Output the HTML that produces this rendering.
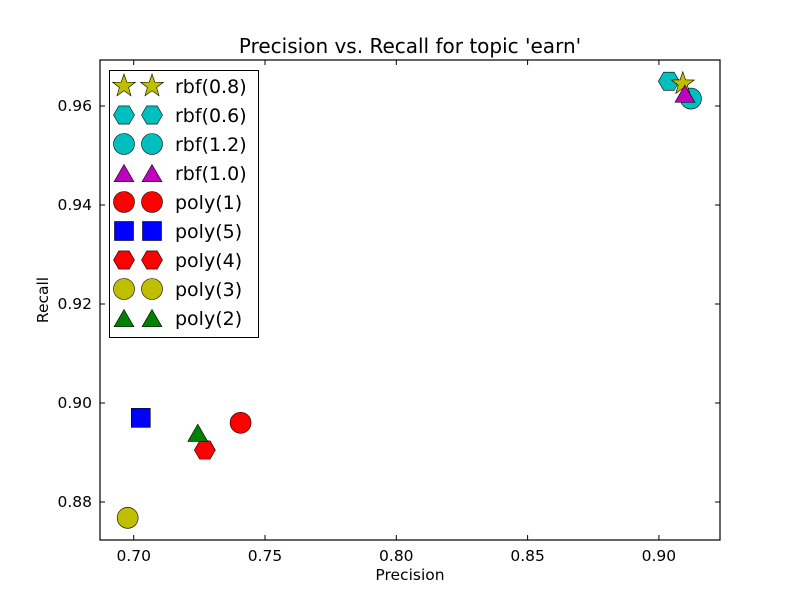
<!DOCTYPE html>
<html><head><meta charset="utf-8">
<style>
body{margin:0;background:#fff;}
svg{display:block;font-family:"DejaVu Sans","Liberation Sans",sans-serif;}
</style></head>
<body>
<svg id="chart" width="800" height="600" xmlns="http://www.w3.org/2000/svg">
<rect width="800" height="600" fill="#fff"/>
<text x="410" y="53" font-size="20" text-anchor="middle">Precision vs. Recall for topic 'earn'</text>
<g id="plot"></g>
<text x="410" y="580" font-size="15.5" text-anchor="middle">Precision</text>
<text x="48" y="300" font-size="15.5" text-anchor="middle" transform="rotate(-90 48 300)">Recall</text>
</svg>
<script>
const labels=["rbf(0.8)","rbf(0.6)","rbf(1.2)","rbf(1.0)","poly(1)","poly(5)","poly(4)","poly(3)","poly(2)"];
const precision=[0.9091,0.9038,0.9122,0.9099,0.7407,0.7027,0.7271,0.6977,0.7244];
const recall=[0.9645,0.9650,0.9615,0.9625,0.8960,0.8970,0.8905,0.8768,0.8940];
const markers=["star","hex","circle","tri","circle","square","hex","circle","tri"];
const colors=["#bfbf00","#00bfbf","#00bfbf","#bf00bf","#ff0000","#0000ff","#ff0000","#bfbf00","#008000"];
const xTicks=[0.70,0.75,0.80,0.85,0.90];
const yTicks=[0.88,0.90,0.92,0.94,0.96];
const drawOrder=[1,2,0,3,4,5,6,7,8];

const L=100,R=720,T=60,B=540;
const xs=v=>133.7+(v-0.70)*2626;
const ys=v=>502-(v-0.88)*4950;
const NS="http://www.w3.org/2000/svg";
const g=document.getElementById('plot');
function mk(tag,attrs,parent){const e=document.createElementNS(NS,tag);for(const k in attrs)e.setAttribute(k,attrs[k]);(parent||g).appendChild(e);return e;}
function marker(type,cx,cy,color,parent){
  let e;
  if(type==="circle"){e=mk('circle',{cx,cy,r:10.5},parent);}
  else if(type==="square"){e=mk('rect',{x:cx-9.5,y:cy-9.5,width:19,height:19},parent);}
  else {
    let pts=[];
    if(type==="tri"){for(let i=0;i<3;i++){const a=-Math.PI/2+i*2*Math.PI/3;pts.push([cx+11.5*Math.cos(a),cy+3+11.5*Math.sin(a)]);}}
    else if(type==="hex"){for(let i=0;i<6;i++){const a=i*Math.PI/3;pts.push([cx+10.5*Math.cos(a),cy+10.5*Math.sin(a)]);}}
    else {for(let i=0;i<10;i++){const a=-Math.PI/2+i*Math.PI/5;const r=i%2?4.8:12;pts.push([cx+r*Math.cos(a),cy+r*Math.sin(a)]);}}
    e=mk('polygon',{points:pts.map(p=>p.join(',')).join(' ')},parent);
  }
  e.setAttribute('fill',color);e.setAttribute('stroke','#000');e.setAttribute('stroke-width','0.6');
  return e;
}
const box=mk('rect',{x:L,y:T,width:R-L,height:B-T,fill:'none',stroke:'#000','stroke-width':1.2});


xTicks.forEach(t=>{
  const x=xs(t);
  mk('line',{x1:x,x2:x,y1:B,y2:B-5,stroke:'#000'});
  mk('line',{x1:x,x2:x,y1:T,y2:T+5,stroke:'#000'});
  const tx=mk('text',{x:x,y:B+21,'font-size':15.5,'text-anchor':'middle'});
  tx.textContent=t.toFixed(2);
  
  
});
yTicks.forEach(t=>{
  const y=ys(t);
  mk('line',{x1:L,x2:L+5,y1:y,y2:y,stroke:'#000'});
  mk('line',{x1:R,x2:R-5,y1:y,y2:y,stroke:'#000'});
  const tx=mk('text',{x:L-8,y:y+5,'font-size':15.5,'text-anchor':'end'});
  tx.textContent=t.toFixed(2);
  
  
});
drawOrder.forEach(i=>{
  const m=marker(markers[i],xs(precision[i]),ys(recall[i]),colors[i]);
  
  
});
const lg=mk('g',{});


mk('rect',{x:109.5,y:70.5,width:149,height:267,fill:'#fff',stroke:'#000','stroke-width':1},lg);
labels.forEach((lab,i)=>{
  const y=86+i*29;
  const ent=mk('g',{},lg);
  
  
  marker(markers[i],124,y,colors[i],ent);
  marker(markers[i],152,y,colors[i],ent);
  const tx=mk('text',{x:175,y:y+7,'font-size':19},ent);
  tx.textContent=lab;
});
</script>
</body></html>
